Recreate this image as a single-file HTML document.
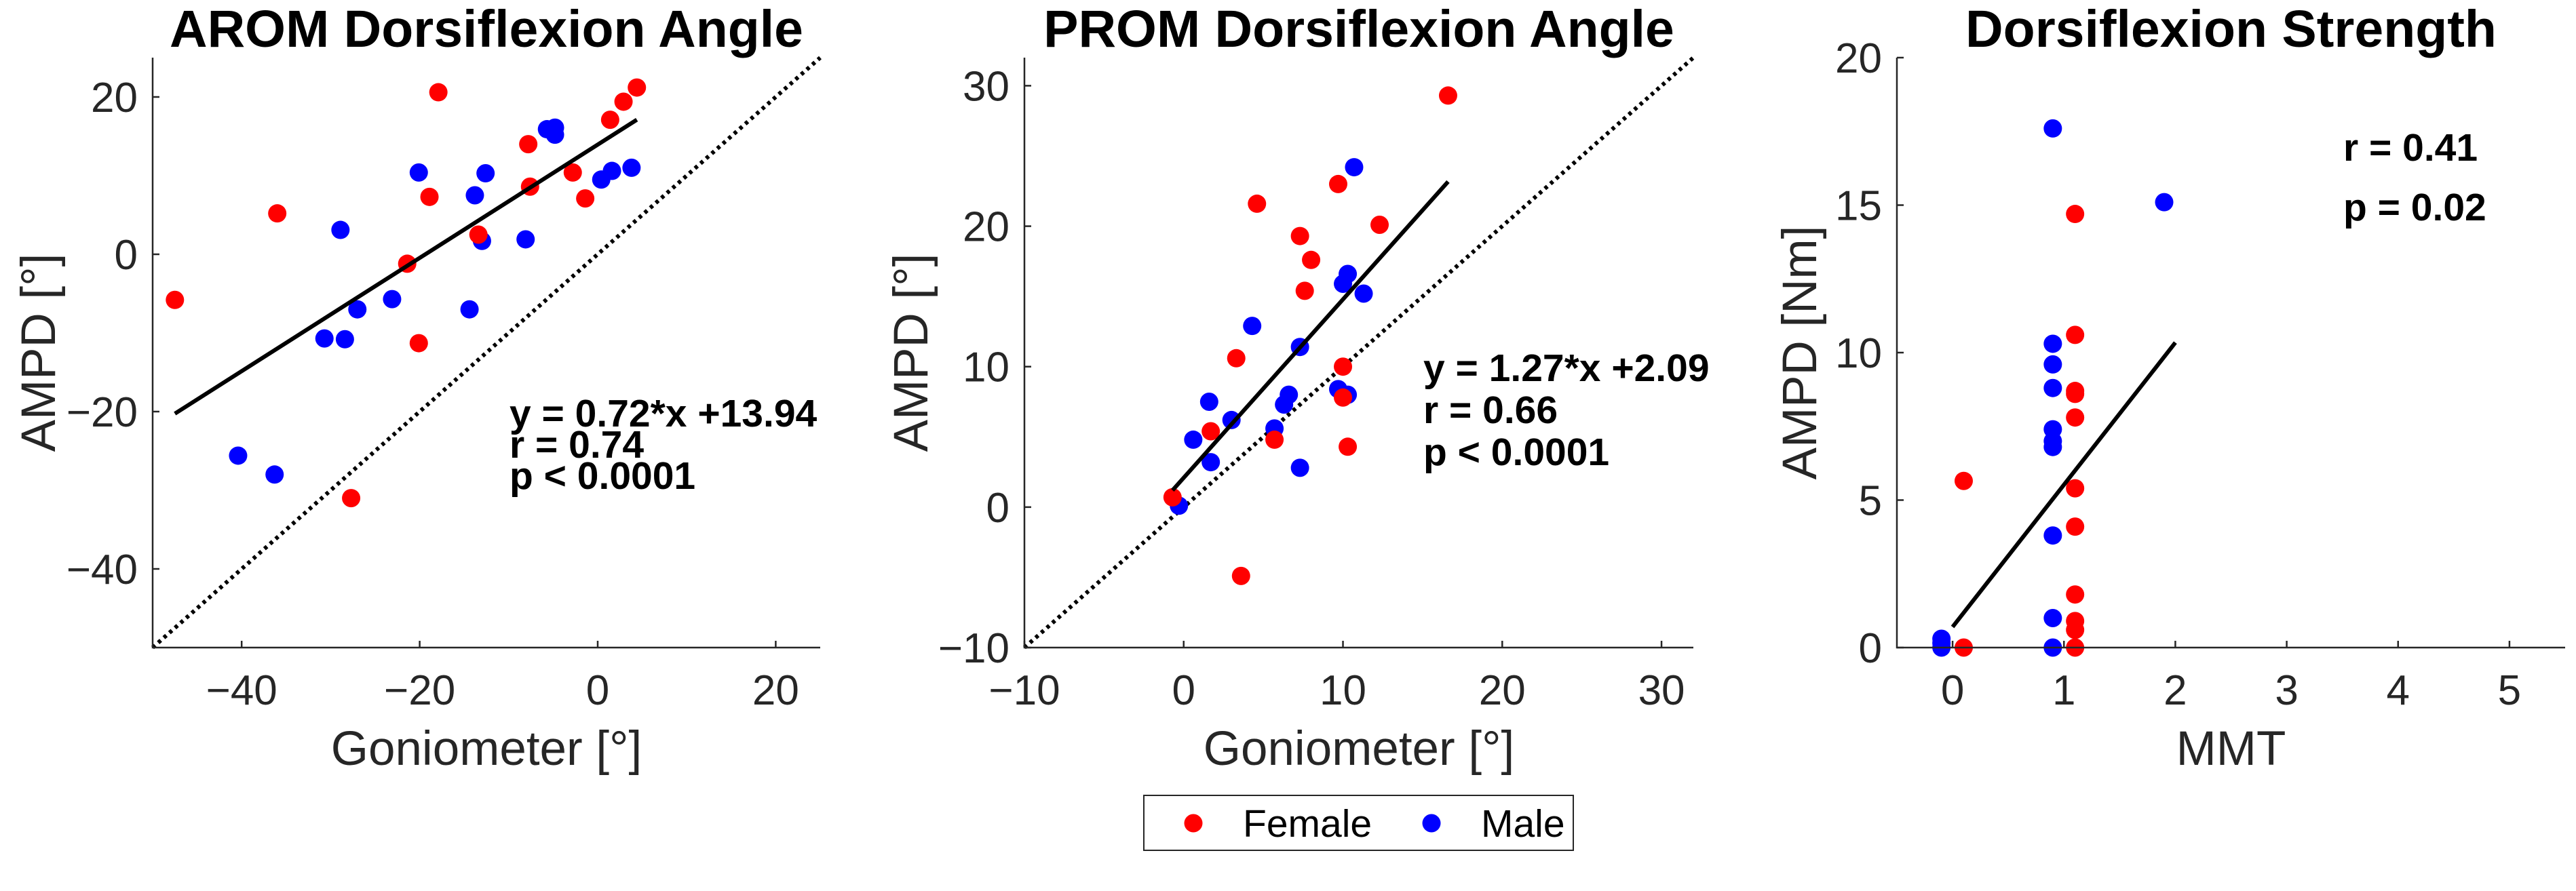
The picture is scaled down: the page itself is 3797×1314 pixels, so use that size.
<!DOCTYPE html>
<html><head><meta charset="utf-8"><style>
html,body{margin:0;padding:0;background:#fff;}
svg{display:block;font-family:"Liberation Sans",Arial,sans-serif;}
</style></head><body>
<svg id="fig" width="3797" height="1314" viewBox="0 0 3797 1314" xmlns="http://www.w3.org/2000/svg">
<g id="root"></g>
</svg>
<script>
// Panel 1: AROM
const aromFemaleX=[-47.5,-36.0,-27.7,-21.4,-20.1,-18.9,-17.9,-13.4,-7.8,-7.6,-2.8,-1.4,1.4,2.9,4.4];
const aromFemaleY=[-5.8,5.2,-31.0,-1.2,-11.3,7.3,20.6,2.5,14.0,8.6,10.4,7.1,17.1,19.4,21.2];
const aromMaleX=[-40.4,-36.3,-30.7,-28.9,-28.4,-27.0,-23.1,-20.1,-14.4,-13.8,-13.0,-12.6,-8.1,-5.7,-4.8,-4.8,0.4,1.6,3.8];
const aromMaleY=[-25.6,-28.0,-10.7,3.1,-10.8,-7.0,-5.7,10.4,-7.0,7.5,1.7,10.3,1.9,15.9,16.1,15.2,9.5,10.6,11.0];
const aromXTicks=[-40,-20,0,20];
const aromYTicks=[-40,-20,0,20];
const aromFit=[0.72,13.94];
// Panel 2: PROM
const promFemaleX=[-0.7,1.7,3.3,3.6,4.6,5.7,7.3,7.6,8.0,9.7,10.0,10.0,10.3,12.3,16.6];
const promFemaleY=[0.7,5.4,10.6,-4.9,21.6,4.8,19.3,15.4,17.6,23.0,10.0,7.8,4.3,20.1,29.3];
const promMaleX=[-0.3,0.6,1.6,1.7,3.0,4.3,5.7,6.3,6.6,7.3,7.3,9.7,10.0,10.3,10.3,10.7,11.3];
const promMaleY=[0.1,4.8,7.5,3.2,6.2,12.9,5.6,7.3,8.0,11.4,2.8,8.4,15.9,16.6,8.0,24.2,15.2];
const promXTicks=[-10,0,10,20,30];
const promYTicks=[-10,0,10,20,30];
const promFit=[1.27,2.09];
// Panel 3: Strength
const strFemaleX=[0.1,0.1,1.1,1.1,1.1,1.1,1.1,1.1,1.1,1.1,1.1,1.1,1.1];
const strFemaleY=[5.65,0,14.7,10.6,8.7,8.6,7.8,5.4,4.1,1.8,0.9,0.6,0];
const strMaleX=[-0.1,-0.1,-0.1,0.9,0.9,0.9,0.9,0.9,0.9,0.9,0.9,0.9,0.9,1.9];
const strMaleY=[0.3,0.15,0,17.6,10.3,9.6,8.8,7.4,7.0,6.8,3.8,1.0,0,15.1];
const strXTicks=[0,1,2,3,4,5];
const strYTicks=[0,5,10,15,20];
const strFit=[4.82,0.7];

const NS="http://www.w3.org/2000/svg";
const root=document.getElementById('root');
function mk(tag,attrs,parent){const e=document.createElementNS(NS,tag);for(const k in attrs)e.setAttribute(k,attrs[k]);(parent||root).appendChild(e);return e;}
function fmt(v){return v<0?'\u2212'+Math.abs(v):String(v);}

function panel(o){
  const g=mk('g',{});
  
  
  const sx=v=>o.L+(v-o.xr[0])/(o.xr[1]-o.xr[0])*(o.R-o.L);
  const sy=v=>o.B-(v-o.yr[0])/(o.yr[1]-o.yr[0])*(o.B-o.T);
  if(o.ident){
    const lo=Math.max(o.xr[0],o.yr[0]),hi=Math.min(o.xr[1],o.yr[1]);
    const l=mk('line',{x1:sx(lo),y1:sy(lo),x2:sx(hi),y2:sy(hi),stroke:'#000','stroke-width':6,'stroke-dasharray':'5 6'},g);
    
    
  }
  const drawPts=(xs,ys,col,nm)=>{xs.forEach((x,i)=>{const c=mk('circle',{cx:sx(x),cy:sy(ys[i]),r:13.5,fill:col},g);
    
    });};
  drawPts(o.mx,o.my,'#0000ff','male-point');
  drawPts(o.fx,o.fy,'#ff0000','female-point');
  const allx=o.fx.concat(o.mx);
  const x0=o.fitX?o.fitX[0]:Math.min(...allx), x1=o.fitX?o.fitX[1]:Math.max(...allx);
  const fl=mk('line',{x1:sx(x0),y1:sy(o.fit[0]*x0+o.fit[1]),x2:sx(x1),y2:sy(o.fit[0]*x1+o.fit[1]),stroke:'#000','stroke-width':6},g);
  
  
  const ax=mk('path',{d:`M${o.L},${o.T} L${o.L},${o.B} L${o.R},${o.B}`,fill:'none',stroke:'#262626','stroke-width':2.5},g);
  
  
  o.xt.forEach(v=>{const x=sx(v);
    mk('line',{x1:x,y1:o.B,x2:x,y2:o.B-10,stroke:'#262626','stroke-width':2.5},g);
    const t=mk('text',{x:x,y:o.B+84,'text-anchor':'middle','font-size':62,fill:'#262626'},g);t.textContent=fmt(v);
    
    });
  o.yt.forEach(v=>{const y=sy(v);
    mk('line',{x1:o.L,y1:y,x2:o.L+10,y2:y,stroke:'#262626','stroke-width':2.5},g);
    const t=mk('text',{x:o.L-22,y:y+22,'text-anchor':'end','font-size':62,fill:'#262626'},g);t.textContent=fmt(v);
    
    });
  const cx=(o.L+o.R)/2, cy=(o.T+o.B)/2;
  const tt=mk('text',{x:cx,y:69,'text-anchor':'middle','font-size':77,'font-weight':'bold',fill:'#000'},g);tt.textContent=o.title;
  
  
  const xl=mk('text',{x:cx,y:1128,'text-anchor':'middle','font-size':71,fill:'#262626'},g);xl.textContent=o.xlabel;
  
  
  const yl=mk('text',{x:0,y:0,'text-anchor':'middle','font-size':71,fill:'#262626',transform:`translate(${o.ylx},${cy}) rotate(-90)`},g);yl.textContent=o.ylabel;
  
  
  o.ann.forEach((s,i)=>{const a=mk('text',{x:o.annX,y:o.annY[i],'font-size':57,'font-weight':'bold',fill:'#000'},g);a.textContent=s;
    
    });
}

panel({name:'arom-panel',L:225,R:1209,T:85,B:955,xr:[-50,25],yr:[-50,25],fx:aromFemaleX,fy:aromFemaleY,mx:aromMaleX,my:aromMaleY,
  xt:aromXTicks,yt:aromYTicks,fit:aromFit,ident:true,title:'AROM Dorsiflexion Angle',xlabel:'Goniometer [°]',ylabel:'AMPD [°]',ylx:81,
  ann:['y = 0.72*x +13.94','r = 0.74','p < 0.0001'],annX:751,annY:[629,675,721]});
panel({name:'prom-panel',L:1510,R:2496,T:85,B:955,xr:[-10,32],yr:[-10,32],fx:promFemaleX,fy:promFemaleY,mx:promMaleX,my:promMaleY,
  xt:promXTicks,yt:promYTicks,fit:promFit,ident:true,title:'PROM Dorsiflexion Angle',xlabel:'Goniometer [°]',ylabel:'AMPD [°]',ylx:1367,
  ann:['y = 1.27*x +2.09','r = 0.66','p < 0.0001'],annX:2098,annY:[562,624,686]});
panel({name:'strength-panel',L:2796,R:3781,T:85,B:955,xr:[-0.5,5.5],yr:[0,20],fx:strFemaleX,fy:strFemaleY,mx:strMaleX,my:strMaleY,
  xt:strXTicks,yt:strYTicks,fit:strFit,fitX:[0,2],ident:false,title:'Dorsiflexion Strength',xlabel:'MMT',ylabel:'AMPD [Nm]',ylx:2677,
  ann:['r = 0.41','p = 0.02'],annX:3454,annY:[237,325]});

const lg=mk('g',{});


mk('rect',{x:1686,y:1173,width:633,height:81,fill:'#fff',stroke:'#262626','stroke-width':2},lg);
const l1=mk('circle',{cx:1759,cy:1214,r:13.5,fill:'#ff0000'},lg);


const t1=mk('text',{x:1832,y:1234,'font-size':57,fill:'#000'},lg);t1.textContent='Female';


const l2=mk('circle',{cx:2110,cy:1214,r:13.5,fill:'#0000ff'},lg);


const t2=mk('text',{x:2183,y:1234,'font-size':57,fill:'#000'},lg);t2.textContent='Male';


</script>
</body></html>
